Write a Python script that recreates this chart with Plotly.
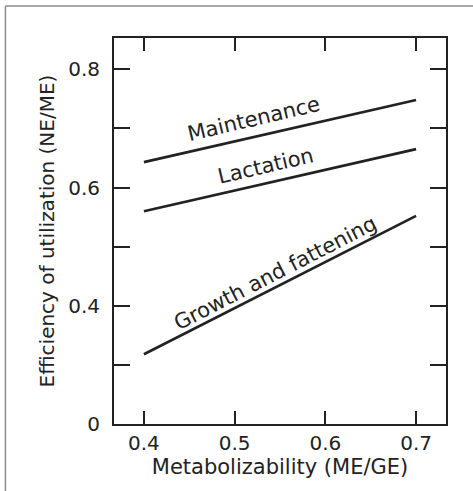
import plotly.graph_objects as go

# Metabolizability (ME/GE) at the two ends of each line
qm = [0.4, 0.7]

# Efficiency of utilization of ME for each function
maintenance = [0.643, 0.748]
lactation = [0.560, 0.665]
growth = [0.318, 0.552]

x_ticks = [0.4, 0.5, 0.6, 0.7]
x_labels = ["0.4", "0.5", "0.6", "0.7"]
# the y axis is broken: its lowest tick is labelled 0
y_ticks = [0.2, 0.3, 0.4, 0.5, 0.6, 0.7, 0.8]
y_labels = ["0", "", "0.4", "", "0.6", "", "0.8"]

labels = ["Maintenance", "Lactation", "Growth and fattening"]
label_x = [0.521, 0.534, 0.545]
label_y = [0.716, 0.636, 0.456]
label_angle = [-13.2, -13.1, -27.2]

ink = "#222222"
font = "DejaVu Sans"

fig = go.Figure()
for ys in (maintenance, lactation, growth):
    fig.add_trace(go.Scatter(x=qm, y=ys, mode="lines",
                             line=dict(color=ink, width=2.6),
                             showlegend=False, hoverinfo="skip"))

for text, lx, ly, ang in zip(labels, label_x, label_y, label_angle):
    fig.add_annotation(x=lx, y=ly, text=text, textangle=ang, showarrow=False,
                       xanchor="center", yanchor="middle",
                       font=dict(family=font, size=21, color=ink))

axis_common = dict(showline=True, linecolor=ink, linewidth=2, mirror="ticks",
                   ticks="inside", tickcolor=ink, tickwidth=2,
                   showgrid=False, zeroline=False,
                   tickfont=dict(family=font, size=20, color=ink))

fig.update_xaxes(range=[0.367, 0.733], tickvals=x_ticks, ticktext=x_labels,
                 ticklen=13,
                 title=dict(text="Metabolizability (ME/GE)", standoff=4,
                            font=dict(family=font, size=21, color=ink)),
                 **axis_common)
fig.update_yaxes(range=[0.2, 0.853], tickvals=y_ticks, ticktext=y_labels,
                 ticklen=16, ticklabelstandoff=8,
                 title=dict(text="Efficiency of utilization (NE/ME)", standoff=8,
                            font=dict(family=font, size=20, color=ink)),
                 **axis_common)

# thin grey page frame along the top and left edges
frame = dict(type="line", xref="paper", yref="paper",
             line=dict(color="#8a8a8a", width=1.5))
fig.add_shape(x0=-0.327, x1=1.09, y0=1.083, y1=1.083, **frame)
fig.add_shape(x0=-0.327, x1=-0.327, y0=1.083, y1=-0.2, **frame)

fig.update_layout(width=473, height=491,
                  margin=dict(l=114, r=27, t=38, b=67),
                  plot_bgcolor="white", paper_bgcolor="white")

fig.write_html("out.html")
